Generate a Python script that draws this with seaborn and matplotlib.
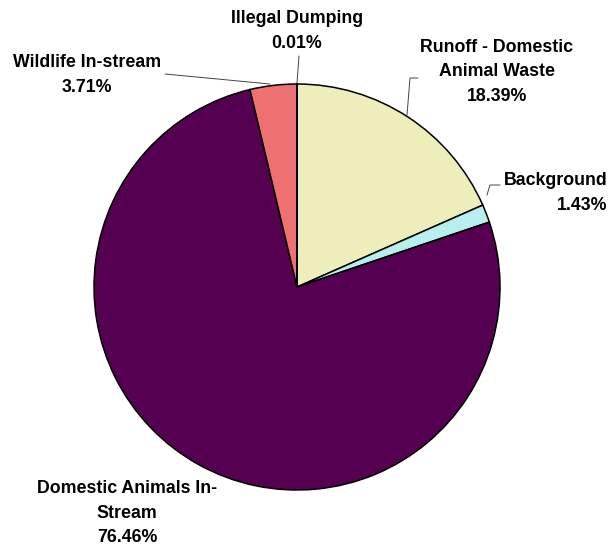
import matplotlib
matplotlib.use('Agg')
import matplotlib.pyplot as plt
import seaborn as sns

# --- data ---
sources = ['Runoff - Domestic\nAnimal Waste', 'Background', 'Domestic Animals In-\nStream',
           'Wildlife In-stream', 'Illegal Dumping']
shares = [18.39, 1.43, 76.46, 3.71, 0.01]
colors = ['#EEEEBB', '#B8EEEE', '#550050', '#EE7070', '#FFFFFF']

sns.set_style('white')
plt.rcParams['font.family'] = ['Liberation Sans', 'DejaVu Sans']

fig = plt.figure(figsize=(6.08, 5.48), dpi=100)
ax = fig.add_axes([0, 0, 1, 1])

cx, cy, r = 297, 261, 203
ax.pie(shares, colors=colors, startangle=90, counterclock=False,
       center=(cx, cy), radius=r, frame=True,
       wedgeprops=dict(edgecolor='black', linewidth=1.1))
ax.set_xlim(0, 608)
ax.set_ylim(0, 548)
ax.set_aspect('equal')
ax.axis('off')

lab = [f'{s}\n{v:.2f}%' for s, v in zip(sources, shares)]
kw = dict(fontsize=12.8, fontweight='bold', linespacing=1.55, va='center', color='black')
ax.text(497, 476, lab[0], ha='center', **kw)
ax.text(504, 355, lab[1], ha='left', multialignment='right', **kw)
ax.text(127, 35, lab[2], ha='center', **kw)
ax.text(87, 473, lab[3], ha='center', **kw)
ax.text(297, 517, lab[4], ha='center', **kw)

# leader lines
lk = dict(color='#444444', linewidth=0.7)
ax.plot([407, 410, 418], [548 - 115, 548 - 78, 548 - 78], **lk)
ax.plot([487, 490, 500], [548 - 195, 548 - 185, 548 - 185], **lk)
ax.plot([270, 165], [548 - 84, 548 - 74], **lk)
ax.plot([297, 299], [548 - 83, 548 - 56], **lk)

fig.savefig('out.png', dpi=100)
